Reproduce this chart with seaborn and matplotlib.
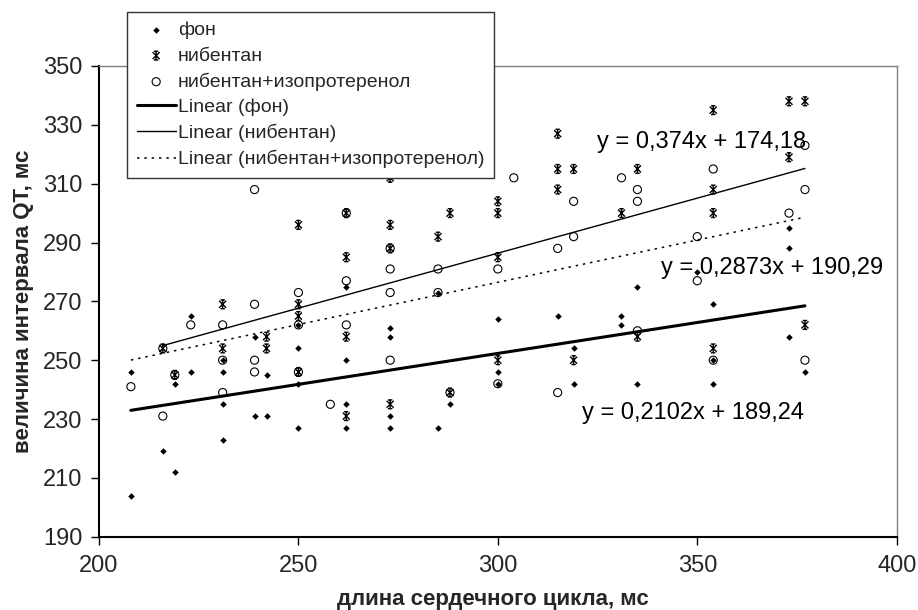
import numpy as np
import pandas as pd
import matplotlib
matplotlib.use("Agg")
import matplotlib.pyplot as plt
from matplotlib.path import Path
import seaborn as sns

# ---------------- data ----------------
fon_x = [208, 208, 216, 219, 219, 223, 223, 231, 231, 231, 231, 239, 239, 242, 242,
         250, 250, 250, 250, 262, 262, 262, 262, 273, 273, 273, 273, 285, 285, 288,
         300, 300, 300, 315, 319, 319, 331, 331, 335, 335, 350, 354, 354, 354,
         373, 373, 373, 377]
fon_y = [246, 204, 219, 242, 212, 265, 246, 250, 246, 235, 223, 258, 231, 245, 231,
         262, 254, 242, 227, 275, 250, 235, 227, 261, 258, 231, 227, 273, 227, 235,
         264, 246, 242, 265, 254, 242, 265, 262, 275, 242, 280, 269, 250, 242,
         295, 288, 258, 246]

nib_x = [216, 219, 231, 231, 242, 242, 250, 250, 250, 250, 262, 262, 262, 262,
         273, 273, 273, 273, 285, 288, 288, 300, 300, 300, 300, 315, 315, 315,
         319, 319, 331, 335, 335, 354, 354, 354, 354, 373, 373, 377, 377]
nib_y = [254, 245, 269, 254, 258, 254, 296, 269, 265, 246, 300, 285, 258, 231,
         312, 296, 288, 235, 292, 300, 239, 304, 300, 285, 250, 327, 315, 308,
         315, 250, 300, 315, 258, 335, 308, 300, 254, 338, 319, 338, 262]

iso_x = [208, 216, 216, 219, 223, 231, 231, 231, 239, 239, 239, 239, 250, 250, 250,
         258, 262, 262, 262, 273, 273, 273, 273, 285, 285, 288, 300, 300, 304,
         315, 315, 319, 319, 331, 335, 335, 335, 350, 350, 354, 354, 373,
         377, 377, 377]
iso_y = [241, 254, 231, 245, 262, 262, 250, 239, 308, 269, 250, 246, 273, 262, 246,
         235, 300, 277, 262, 288, 281, 273, 250, 281, 273, 239, 281, 242, 312,
         288, 239, 304, 292, 312, 308, 304, 260, 292, 277, 315, 250, 300,
         323, 308, 250]

series_names = ["фон", "нибентан", "нибентан+изопротеренол"]
trend_names = ["Linear (фон)", "Linear (нибентан)", "Linear (нибентан+изопротеренол)"]
slopes = [0.2102, 0.374, 0.2873]
intercepts = [189.24, 174.18, 190.29]
equations = ["y = 0,2102x + 189,24", "y = 0,374x + 174,18", "y = 0,2873x + 190,29"]
eq_pos = [(321.0, 232.0), (324.8, 324.0), (341.0, 281.5)]

x_ticks = [200, 250, 300, 350, 400]
y_ticks = [190, 210, 230, 250, 270, 290, 310, 330, 350]
x_label = "длина сердечного цикла, мс"
y_label = "величина интервала QT, мс"

# ---------------- style ----------------
sns.set_style("white")
plt.rcParams["font.family"] = ["Liberation Sans", "DejaVu Sans"]

fig = plt.figure(figsize=(9.18, 6.10), dpi=100)
ax = fig.add_axes([99 / 918, 1 - 536.7 / 610, (896.7 - 99) / 918, (536.7 - 66) / 610])

# star marker like Excel's
star = Path(
    [(0, -1), (0, 1), (-0.8, -0.8), (0.8, 0.8), (-0.8, 0.8), (0.8, -0.8),
     (-0.5, 1), (0.5, 1), (-0.5, -1), (0.5, -1)],
    [Path.MOVETO, Path.LINETO] * 5,
)

sns.scatterplot(x=fon_x, y=fon_y, ax=ax, marker="D", s=11, color="black",
                edgecolor="black", linewidth=0, label=series_names[0], legend=False)
sns.scatterplot(x=nib_x, y=nib_y, ax=ax, marker=star, s=40, color="black",
                facecolor="none", edgecolor="black", linewidth=1.0,
                label=series_names[1], legend=False)
sns.scatterplot(x=iso_x, y=iso_y, ax=ax, marker="o", s=34, color="black",
                facecolor="none", edgecolor="black", linewidth=0.8,
                label=series_names[2], legend=False)

# trend lines from the shown equations, over each series' x range
xs_list = [fon_x, nib_x, iso_x]
line_styles = [dict(linewidth=2.2, linestyle="-"),
               dict(linewidth=1.0, linestyle="-"),
               dict(linewidth=1.1, linestyle=(0, (1.6, 3.2)))]
for name, xs, k, b, st in zip(trend_names, xs_list, slopes, intercepts, line_styles):
    lx = np.array([min(xs), max(xs)], dtype=float)
    ly = k * lx + b
    sns.lineplot(x=lx, y=ly, ax=ax, color="black", label=name, legend=False, **st)

for txt, (tx, ty) in zip(equations, eq_pos):
    ax.text(tx, ty, txt, fontsize=17, ha="left", va="center", color="black")

ax.set_xlim(200, 400)
ax.set_ylim(190, 350)
ax.set_xticks(x_ticks)
ax.set_yticks(y_ticks)
ax.tick_params(axis="both", which="major", labelsize=17, direction="out",
               length=6, width=1, color="black", left=True, bottom=True)
ax.tick_params(axis="x", pad=7)
ax.tick_params(axis="y", pad=6)

for side in ["left", "bottom"]:
    ax.spines[side].set_color("black")
    ax.spines[side].set_linewidth(1.5)
for side in ["top", "right"]:
    ax.spines[side].set_visible(True)
    ax.spines[side].set_color("#7f7f7f")
    ax.spines[side].set_linewidth(1.0)

ax.set_xlabel(x_label, fontsize=16, fontweight="bold")
ax.set_ylabel(y_label, fontsize=16, fontweight="bold")
ax.xaxis.set_label_coords(0.494, -0.112)
ax.yaxis.set_label_coords(-0.082, 0.5)

# legend, ordered as in the reference
handles, labels = ax.get_legend_handles_labels()
order = series_names + trend_names
hmap = dict(zip(labels, handles))
if ax.get_legend() is not None:
    ax.get_legend().remove()
leg = fig.legend([hmap[l] for l in order], order, loc="upper left",
                 bbox_to_anchor=(127 / 918, 1 - 12 / 610), bbox_transform=fig.transFigure,
                 fontsize=14, frameon=True, fancybox=False, edgecolor="#333333",
                 framealpha=1, borderaxespad=0, borderpad=0.5, labelspacing=0.4,
                 handlelength=2.0, handletextpad=0.12)
leg.get_frame().set_linewidth(1.0)

fig.savefig("out.png", dpi=100)
